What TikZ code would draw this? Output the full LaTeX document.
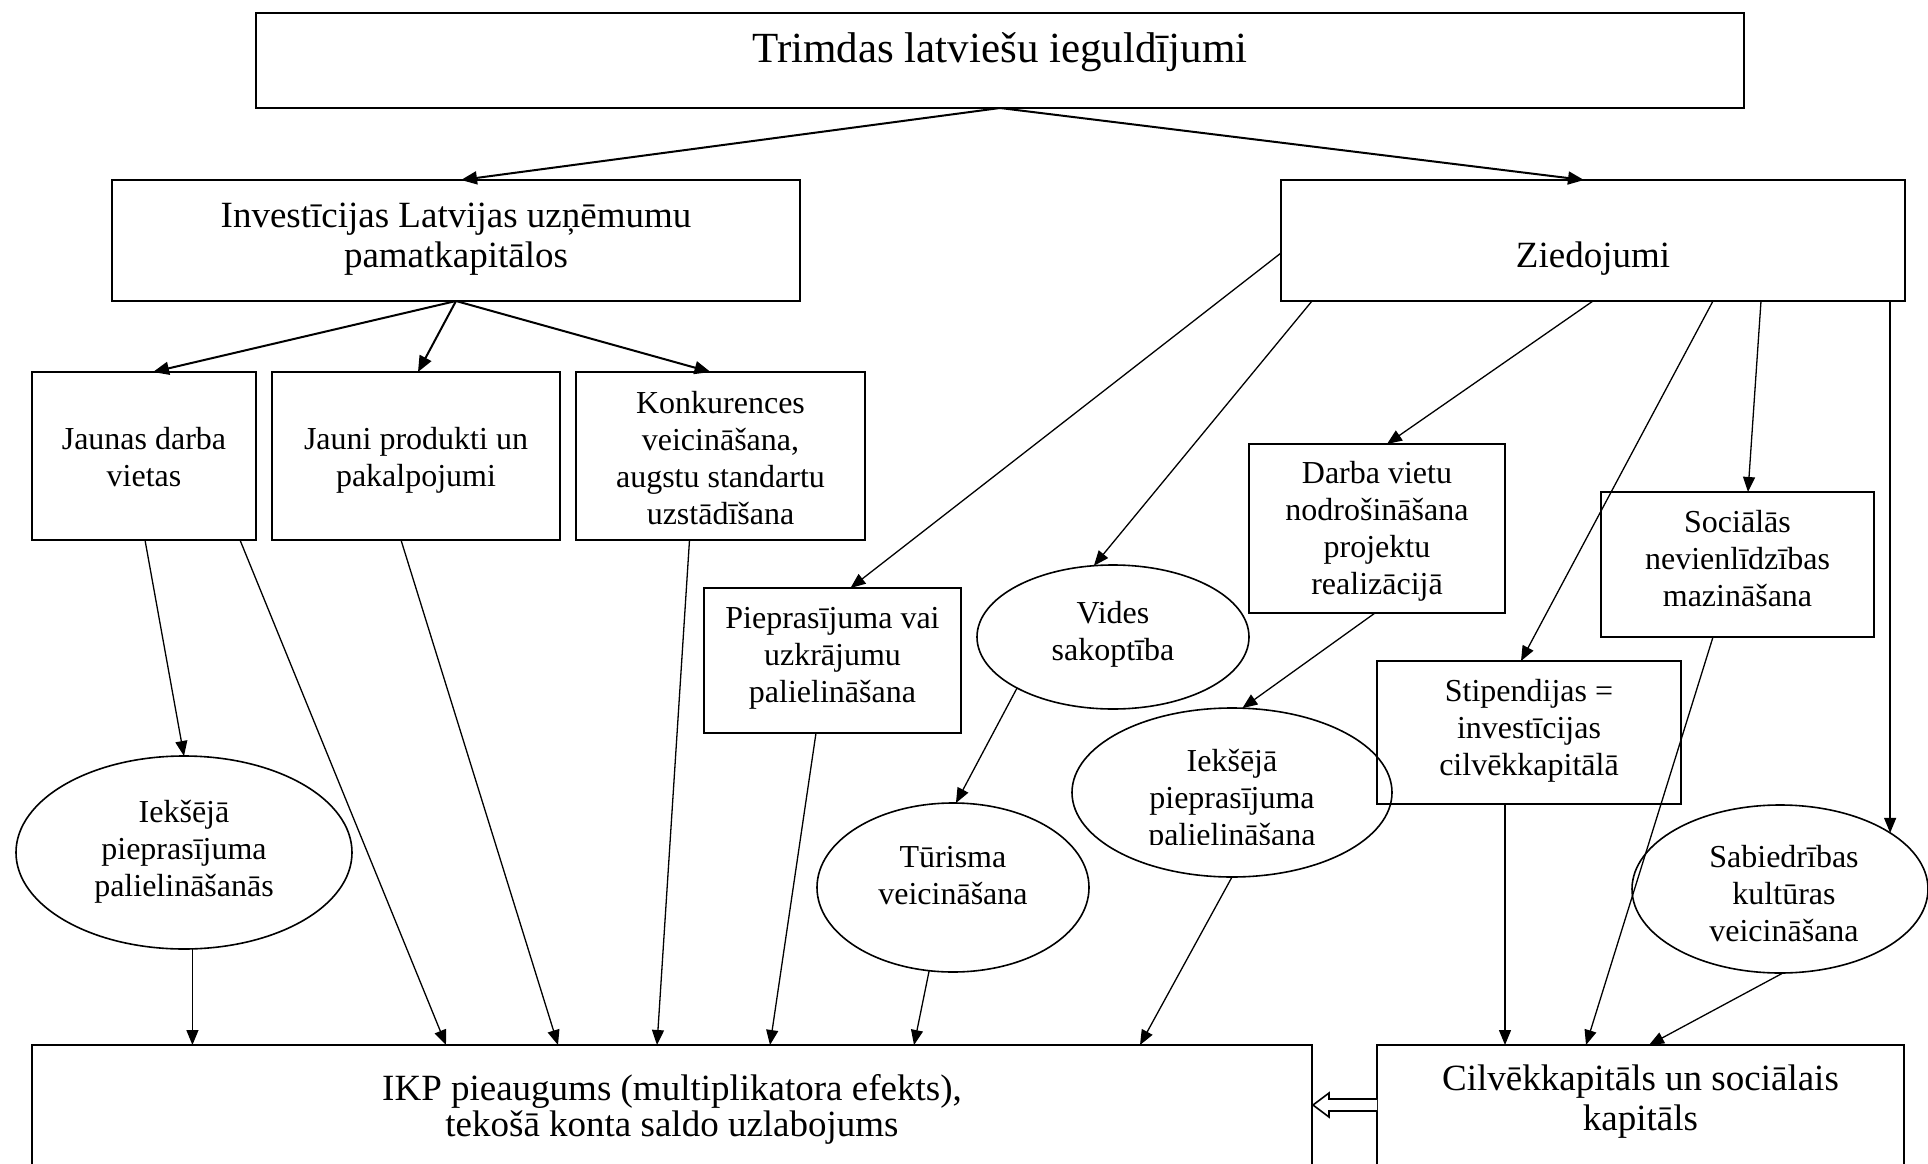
\documentclass[tikz,border=0pt]{standalone}
\usepackage{fontspec}
\setmainfont{Liberation Serif}
\usetikzlibrary{arrows.meta,shapes.geometric,calc}
\newcommand{\mlines}[1]{\begin{tabular}[t]{@{}c@{}}#1\end{tabular}}
\tikzset{
  boxnode/.style={draw, line width=2pt, rectangle, inner sep=0pt, outer sep=0pt},
  ellnode/.style={draw, line width=1.6pt, ellipse, inner sep=0pt, outer sep=0pt},
  arr/.style={line width=1.3pt, -{Triangle[length=15pt,width=12pt]}},
  arrthick/.style={line width=2pt, -{Triangle[length=16pt,width=13pt]}},
  titletxt/.style={anchor=base, inner sep=0pt, font=\fontsize{43}{48}\selectfont},
  bigtxt/.style={anchor=base, inner sep=0pt, font=\fontsize{37}{40}\selectfont},
  bigtxtb/.style={anchor=base, inner sep=0pt, font=\fontsize{37}{35}\selectfont},
  smtxt/.style={anchor=base, inner sep=0pt, font=\fontsize{32}{37}\selectfont}
}
\begin{document}
\begin{tikzpicture}[x=1pt,y=-1pt]
\useasboundingbox (0,0) rectangle (1928,1164);
\fill[white] (0,0) rectangle (1928,1164);
\clip (0,0) rectangle (1928,1164);

% boxes
\node[boxnode, minimum width=1488, minimum height=95] (top) at (1000,60.5) {};
\node[boxnode, minimum width=688, minimum height=121] (inv) at (456,240.5) {};
\node[boxnode, minimum width=624, minimum height=121] (zied) at (1593,240.5) {};
\node[boxnode, minimum width=224, minimum height=168] (jd) at (144,456) {};
\node[boxnode, minimum width=288, minimum height=168] (jp) at (416,456) {};
\node[boxnode, minimum width=289, minimum height=168] (kv) at (720.5,456) {};
\node[boxnode, minimum width=257, minimum height=145] (pv) at (832.5,660.5) {};
\node[boxnode, minimum width=256, minimum height=169] (dv) at (1377,528.5) {};
\node[boxnode, minimum width=273, minimum height=145] (sn) at (1737.5,564.5) {};
\node[boxnode, minimum width=304, minimum height=143] (st) at (1529,732.5) {};
\node[boxnode, minimum width=1280, minimum height=135] (ikp) at (672,1112.5) {};
\node[boxnode, minimum width=527, minimum height=135] (cap) at (1640.5,1112.5) {};

% ellipses
\node[ellnode, minimum width=336, minimum height=193] (e1) at (184,852.5) {};
\node[ellnode, minimum width=272, minimum height=144] (vs) at (1113,637) {};
\node[ellnode, minimum width=272, minimum height=169] (tu) at (953,887.5) {};
\node[ellnode, minimum width=320, minimum height=169] (e2) at (1232,792.5) {};
\node[ellnode, minimum width=296, minimum height=168] (sk) at (1780,889) {};

% texts
\node[titletxt] (ttop) at (1000,63) {Trimdas latviešu ieguldījumi};
\node[bigtxt] (tinv) at (456,227) {\mlines{Investīcijas Latvijas uzņēmumu\\pamatkapitālos}};
\node[bigtxt] (tzied) at (1593,267) {Ziedojumi};
\node[smtxt] (tjd) at (144,449) {\mlines{Jaunas darba\\vietas}};
\node[smtxt] (tjp) at (416,449) {\mlines{Jauni produkti un\\pakalpojumi}};
\node[smtxt] (tkv) at (720.5,413) {\mlines{Konkurences\\veicināšana,\\augstu standartu\\uzstādīšana}};
\node[smtxt] (tpv) at (832.5,628) {\mlines{Pieprasījuma vai\\uzkrājumu\\palielināšana}};
\node[smtxt] (tvs) at (1113,623) {\mlines{Vides\\sakoptība}};
\node[smtxt] (tdv) at (1377,483) {\mlines{Darba vietu\\nodrošināšana\\projektu\\realizācijā}};
\node[smtxt] (tsn) at (1737.5,532) {\mlines{Sociālās\\nevienlīdzības\\mazināšana}};
\node[smtxt] (tst) at (1529,701) {\mlines{Stipendijas =\\investīcijas\\cilvēkkapitālā}};
\begin{scope}
\clip (1060,700) rectangle (1400,844.5);
\node[smtxt] (te2) at (1232,771) {\mlines{Iekšējā\\pieprasījuma\\palielināšana}};
\end{scope}
\node[smtxt] (ttu) at (953,867) {\mlines{Tūrisma\\veicināšana}};
\node[smtxt] (te1) at (184,822) {\mlines{Iekšējā\\pieprasījuma\\palielināšanās}};
\node[smtxt] (tsk) at (1784,867) {\mlines{Sabiedrības\\kultūras\\veicināšana}};
\node[bigtxtb] (tikp) at (672,1100) {\mlines{IKP pieaugums (multiplikatora efekts),\\tekošā konta saldo uzlabojums}};
\node[bigtxt] (tcap) at (1640.5,1090) {\mlines{Cilvēkkapitāls un sociālais\\kapitāls}};

% connectors
\draw[arrthick] (top.south) -- ([xshift=5]inv.north);
\draw[arrthick] (top.south) -- ([xshift=-9]zied.north);
\draw[arrthick] (inv.south) -- ([xshift=9]jd.north);
\draw[arrthick] (inv.south) -- ([xshift=2]jp.north);
\draw[arrthick] (inv.south) -- ([xshift=-10]kv.north);

\draw[arr] ([xshift=1]jd.south) -- (e1.north);
\draw[arr] ([xshift=96]jd.south) -- ([xshift=-226]ikp.north);
\draw[arr] ([xshift=-15]jp.south) -- ([xshift=-114]ikp.north);
\draw[arr] ([xshift=-31]kv.south) -- ([xshift=-15]ikp.north);
\draw[arr] (e1.-85) -- (e1.-85 |- ikp.north);
\draw[arr] ([xshift=-16.5]pv.south) -- ([xshift=98]ikp.north);

\draw[arr] ([yshift=-12.5]zied.west) -- ([xshift=18]pv.north);
\draw[arr] ([xshift=-281]zied.south) -- (vs.105);
\draw[arr] (zied.south) -- ([xshift=10]dv.north);
\draw[arr] ([xshift=120]zied.south) -- ([xshift=-8]st.north);
\draw[arr] ([xshift=168]zied.south) -- ([xshift=10.5]sn.north);
\draw[arr] (sk.27 |- zied.south) -- (sk.27);

\draw[arr] (vs.208) -- (tu.88);
\draw[arr] (tu.-106) -- ([xshift=242]ikp.north);
\draw[arr] ([xshift=-2]dv.south) -- (e2.83);
\draw[arr] (e2.south) -- ([xshift=468]ikp.north);
\draw[arr] ([xshift=-24]st.south) -- ([xshift=-24]st.south |- cap.north);
\draw[arr] ([xshift=-24.5]sn.south) -- ([xshift=-54.5]cap.north);
\draw[arr] (sk.-88) -- ([xshift=8.5]cap.north);

% hollow block arrow from cap to ikp
\coordinate (dtip) at ([yshift=7.5]ikp.east);
\coordinate (dend) at ([yshift=7.5]cap.west);
\draw[line width=1.6pt, line join=miter, fill=white]
  ([yshift=6]dend) -- ++(-48,0) -- ++(0,-6) -- ([xshift=1]dtip) -- ++(16,12) -- ++(0,-6) -- ++(48,0);
\end{tikzpicture}
\end{document}
